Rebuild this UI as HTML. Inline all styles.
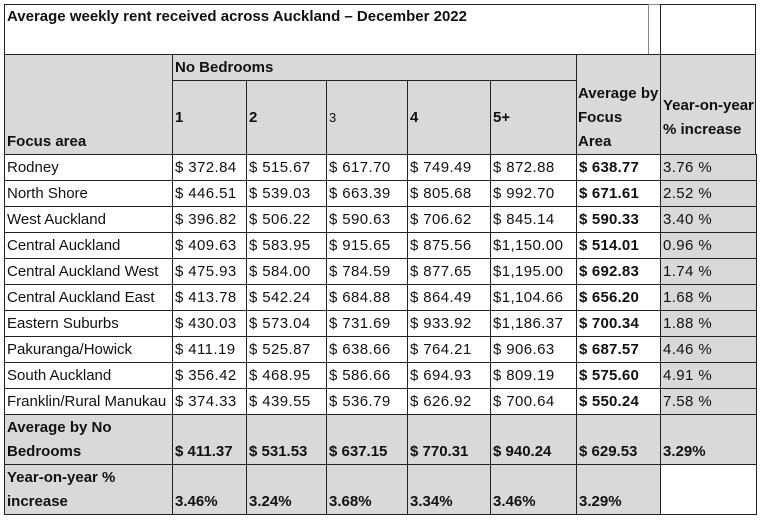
<!DOCTYPE html>
<html><head><meta charset="utf-8">
<style>
body{margin:0;width:761px;height:521px;background:#fff;position:relative;overflow:hidden;font-family:"Liberation Sans",Arial,sans-serif;font-size:15px;color:#111}
.c{position:absolute;box-sizing:border-box;border:1px solid #222;margin:0;padding:0 1px 0 2px;display:flex;line-height:24px;overflow:hidden;white-space:nowrap}
.g{background:#d9d9d9}
.b{font-weight:bold}
.mid{align-items:center}
.bot{align-items:flex-end}
.top{align-items:flex-start}
.n{letter-spacing:0.4px}
.nb{letter-spacing:0.2px}
</style></head><body>
<div class="c top b" style="left:4px;top:4px;width:645px;height:51px;padding-top:3px;line-height:18px">Average weekly rent received across Auckland – December 2022</div>
<div class="c" style="left:648px;top:4px;width:13px;height:51px;border-color:#888"></div>
<div class="c" style="left:660px;top:4px;width:96px;height:51px"></div>
<div class="c g b bot" style="left:4px;top:54px;width:169px;height:101px">Focus area</div>
<div class="c g b mid" style="left:172px;top:54px;width:405px;height:27px">No Bedrooms</div>
<div class="c g b bot" style="left:576px;top:54px;width:85px;height:101px;padding-left:1px"><div>Average by<br>Focus<br>Area</div></div>
<div class="c g b bot" style="left:660px;top:54px;width:96px;height:101px;padding-bottom:12px"><div>Year-on-year<br>% increase</div></div>
<div id="t"></div>
<script>
const xs=[4,172,246,326,407,490,576,660,756];
const bedroomLabels=["1","2","3","4","5+"];
const areas=["Rodney","North Shore","West Auckland","Central Auckland","Central Auckland West","Central Auckland East","Eastern Suburbs","Pakuranga/Howick","South Auckland","Franklin/Rural Manukau"];
const rents=[
["$ 372.84","$ 515.67","$ 617.70","$ 749.49","$ 872.88"],
["$ 446.51","$ 539.03","$ 663.39","$ 805.68","$ 992.70"],
["$ 396.82","$ 506.22","$ 590.63","$ 706.62","$ 845.14"],
["$ 409.63","$ 583.95","$ 915.65","$ 875.56","$1,150.00"],
["$ 475.93","$ 584.00","$ 784.59","$ 877.65","$1,195.00"],
["$ 413.78","$ 542.24","$ 684.88","$ 864.49","$1,104.66"],
["$ 430.03","$ 573.04","$ 731.69","$ 933.92","$1,186.37"],
["$ 411.19","$ 525.87","$ 638.66","$ 764.21","$ 906.63"],
["$ 356.42","$ 468.95","$ 586.66","$ 694.93","$ 809.19"],
["$ 374.33","$ 439.55","$ 536.79","$ 626.92","$ 700.64"]];
const areaAvg=["$ 638.77","$ 671.61","$ 590.33","$ 514.01","$ 692.83","$ 656.20","$ 700.34","$ 687.57","$ 575.60","$ 550.24"];
const areaYoy=["3.76 %","2.52 %","3.40 %","0.96 %","1.74 %","1.68 %","1.88 %","4.46 %","4.91 %","7.58 %"];
const bedAvg=["$ 411.37","$ 531.53","$ 637.15","$ 770.31","$ 940.24","$ 629.53","3.29%"];
const bedYoy=["3.46%","3.24%","3.68%","3.34%","3.46%","3.29%"];
const root=document.getElementById('t');
function cell(x0,x1,y,h,txt,cls){
 const d=document.createElement('div');
 d.className='c '+cls;
 d.style.left=x0+'px';d.style.top=y+'px';d.style.width=(x1-x0+1)+'px';d.style.height=(h+1)+'px';
 d.innerHTML=txt;root.appendChild(d);return d;}
bedroomLabels.forEach((l,i)=>{
 const d=cell(xs[i+1],xs[i+2],80,74,l,'g mid'+(l==='3'?'':' b'));
 if(l==='3')d.style.fontSize='13px';
 
 
});
areas.forEach((a,r)=>{
 const y=154+r*26;
 let d=cell(xs[0],xs[1],y,26,a,'mid');
 
 
 rents[r].forEach((v,i)=>{
  d=cell(xs[i+1],xs[i+2],y,26,v,'mid n');
  
  
 });
 d=cell(xs[6],xs[7],y,26,areaAvg[r],'mid b nb');
 
 
 d=cell(xs[7],xs[8],y,26,areaYoy[r],'mid g n');
 
 
});
let d=cell(xs[0],xs[1],414,50,'<div>Average by No<br>Bedrooms</div>','g b bot');


bedAvg.forEach((v,i)=>{
 d=cell(xs[i+1],xs[i+2],414,50,v,'g b bot');
 
 
});
d=cell(xs[0],xs[1],464,50,'<div>Year-on-year %<br>increase</div>','g b bot');


bedYoy.forEach((v,i)=>{
 d=cell(xs[i+1],xs[i+2],464,50,v,'g b bot');
 
 
});
d=cell(xs[7],xs[8],464,50,'','');


</script>
</body></html>
